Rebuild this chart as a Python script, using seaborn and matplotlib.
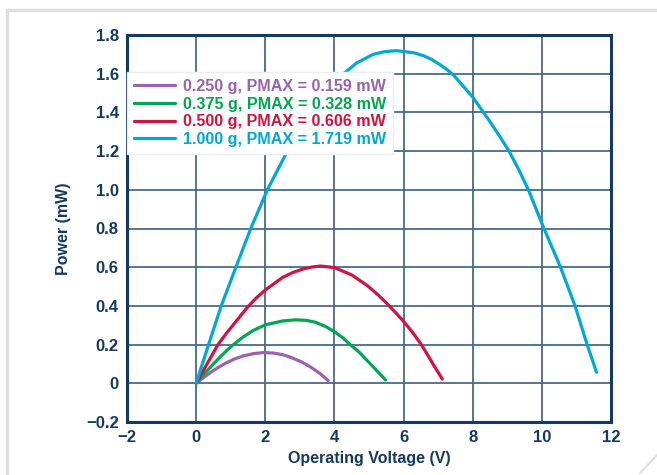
import numpy as np
import pandas as pd
import matplotlib
matplotlib.use("Agg")
import matplotlib.pyplot as plt
import seaborn as sns
from matplotlib.lines import Line2D

# values
v_250 = [0, 0.15, 0.385, 0.6, 0.865, 1.1, 1.35, 1.65, 1.95, 2.25, 2.5, 2.74, 3.08, 3.32, 3.58, 3.82]
p_250 = [0, 0.021, 0.052, 0.078, 0.105, 0.125, 0.141, 0.153, 0.159, 0.156, 0.148, 0.134, 0.108, 0.083, 0.051, 0.014]

v_375 = [0, 0.15, 0.385, 0.6, 0.865, 1.06, 1.35, 1.65, 2.0, 2.5, 2.88, 3.2, 3.46, 3.75, 4.0,
         4.25, 4.47, 4.72, 4.95, 5.2, 5.48]
p_375 = [0, 0.032, 0.078, 0.119, 0.166, 0.197, 0.238, 0.273, 0.302, 0.322, 0.328, 0.325, 0.315,
         0.293, 0.267, 0.234, 0.198, 0.160, 0.117, 0.070, 0.017]

v_500 = [0, 0.15, 0.385, 0.625, 0.865, 1.1, 1.47, 1.75, 2.0, 2.5, 2.8, 3.08, 3.35, 3.6, 4.0, 4.5,
         4.95, 5.25, 5.53, 5.75, 5.98, 6.25, 6.5, 6.7, 6.88, 7.12]
p_500 = [0, 0.048, 0.122, 0.198, 0.256, 0.308, 0.390, 0.443, 0.482, 0.547, 0.573, 0.590, 0.601,
         0.606, 0.598, 0.560, 0.505, 0.459, 0.410, 0.369, 0.324, 0.265, 0.204, 0.145, 0.091, 0.022]

v_1000 = [0, 0.365, 0.72, 1.15, 1.58, 2.06, 2.64, 3.2, 3.7, 4.3, 4.64, 5.12, 5.45, 5.8, 6.3, 6.59,
          6.8, 7.07, 7.25, 7.45, 8.0, 8.45, 8.75, 9.05, 9.33, 9.61, 10.06, 10.54, 10.96, 11.31, 11.58]
p_1000 = [0, 0.203, 0.397, 0.6, 0.8, 1.0, 1.2, 1.37, 1.49, 1.605, 1.655, 1.700, 1.714, 1.719, 1.708,
          1.692, 1.675, 1.645, 1.622, 1.592, 1.479, 1.365, 1.285, 1.2, 1.105, 1.0, 0.8, 0.6, 0.4, 0.2, 0.057]

labels = ["0.250 g, PMAX = 0.159 mW", "0.375 g, PMAX = 0.328 mW",
          "0.500 g, PMAX = 0.606 mW", "1.000 g, PMAX = 1.719 mW"]
colors = ["#9b62ad", "#00a651", "#d01440", "#00a8d4"]

xticks = [-2, 0, 2, 4, 6, 8, 10, 12]
yticks = [-0.2, 0, 0.2, 0.4, 0.6, 0.8, 1.0, 1.2, 1.4, 1.6, 1.8]
ytick_labels = ["\u22120.2", "0", "0.2", "0.4", "0.6", "0.8", "1.0", "1.2", "1.4", "1.6", "1.8"]

df = pd.concat([
    pd.DataFrame({"V": v, "P": p, "series": lab})
    for v, p, lab in zip([v_250, v_375, v_500, v_1000], [p_250, p_375, p_500, p_1000], labels)
])

sns.set_style("white")
plt.rcParams["font.family"] = ["Liberation Sans", "DejaVu Sans"]
navy = "#15395f"
gridc = "#4a6a8c"

fig = plt.figure(figsize=(6.57, 4.75), dpi=100)
ax = fig.add_axes([127 / 657, 53 / 475, 484 / 657, 387 / 475])

sns.lineplot(data=df, x="V", y="P", hue="series", palette=colors, hue_order=labels,
             estimator=None, sort=False, linewidth=2.3, ax=ax, legend=False, zorder=3)
for ln in ax.get_lines():
    ln.set_solid_joinstyle("round")

ax.set_xlim(-2, 12)
ax.set_ylim(-0.2, 1.8)
ax.set_xticks(xticks)
ax.set_xticklabels([str(t) if t >= 0 else "\u2212" + str(-t) for t in xticks])
ax.set_yticks(yticks)
ax.set_yticklabels(ytick_labels)
ax.grid(True, color=gridc, linewidth=1.3, zorder=1)
ax.set_axisbelow(True)
for s in ax.spines.values():
    s.set_color(navy)
    s.set_linewidth(2.2)
ax.tick_params(length=0, pad=6, labelsize=12, labelcolor=navy)
for t in ax.get_xticklabels() + ax.get_yticklabels():
    t.set_fontweight("bold")

ax.set_xlabel("Operating Voltage (V)", fontsize=11.5, fontweight="bold", color=navy, labelpad=4)
ax.set_ylabel("Power (mW)", fontsize=11.5, fontweight="bold", color=navy, labelpad=11)

handles = [Line2D([0], [0], color=c, linewidth=2.3) for c in colors]
leg = ax.legend(handles, labels, loc="upper left", bbox_to_anchor=(0.0, 0.905),
                borderaxespad=0, frameon=True, fancybox=False, framealpha=1,
                edgecolor="#eeeeee", facecolor="white", fontsize=11.6,
                handlelength=2.5, handletextpad=0.5, labelspacing=0.16,
                borderpad=0.45)
leg.set_zorder(5)
for txt, c in zip(leg.get_texts(), colors):
    txt.set_color(c)
    txt.set_fontweight("bold")

# light page border with folded corner
fig.add_artist(Line2D([7 / 657, 1], [1 - 10 / 475, 1 - 10 / 475], color="#dedede", linewidth=2.5))
fig.add_artist(Line2D([7 / 657, 7 / 657], [0, 1 - 10 / 475], color="#dedede", linewidth=2.5))
fig.add_artist(Line2D([640 / 657, 1], [2 / 475, 20 / 475], color="#dedede", linewidth=1.5))

fig.savefig("out.png", dpi=100)
